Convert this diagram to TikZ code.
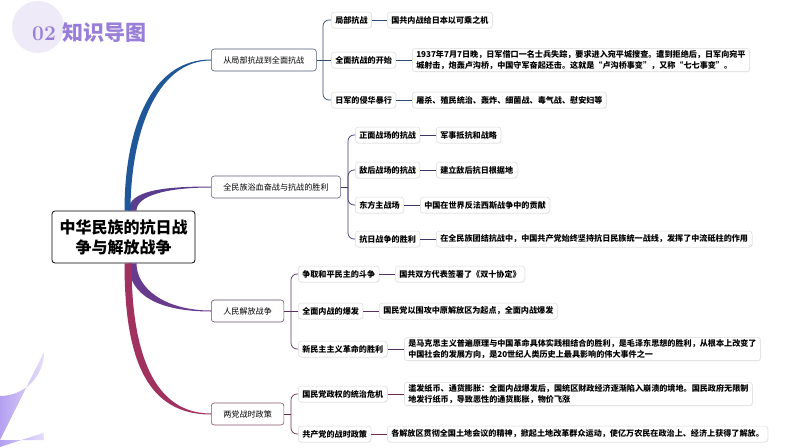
\documentclass[tikz,border=0pt]{standalone}
\usepackage{fontspec}
\newfontfamily\cjk{Noto Sans CJK SC}
\usetikzlibrary{calc,shadows}
\definecolor{titlepurple}{HTML}{9A7FD8}
\definecolor{lavender}{HTML}{EEEAF8}
\definecolor{blobDark}{HTML}{B4A0F0}
\definecolor{blobLight}{HTML}{E6DEFB}
\definecolor{blueBr}{HTML}{1F5799}
\definecolor{purpleBr}{HTML}{5A3D8E}
\definecolor{violetBr}{HTML}{683B8E}
\definecolor{crimsonBr}{HTML}{A1325F}
\definecolor{lineA}{HTML}{2D4A70}
\definecolor{lineB}{HTML}{3C3768}
\definecolor{lineC}{HTML}{5A3164}
\definecolor{lineD}{HTML}{6F2B4F}
\definecolor{edgeA}{HTML}{4A5874}
\definecolor{edgeB}{HTML}{66617F}
\definecolor{edgeC}{HTML}{5E4F70}
\definecolor{edgeD}{HTML}{84546B}

\begin{document}
\begin{tikzpicture}[x=1pt, y=-1pt,
  root/.style={draw=black, line width=0.8pt, rounded corners=3pt, fill=white,
    minimum width=143pt, minimum height=52pt, align=center,
    font=\cjk\bfseries\fontsize{16}{20}\selectfont},
  topic/.style={draw=#1, line width=0.6pt, rounded corners=3pt, fill=white,
    minimum height=22pt, inner xsep=12pt, anchor=west,
    font=\cjk\fontsize{8.1}{10}\selectfont},
  sub/.style={draw=black!14, line width=0.5pt, rounded corners=3pt, fill=white,
    minimum height=16pt, inner xsep=4pt, inner ysep=2pt, anchor=west,
    font=\cjk\bfseries\fontsize{8.1}{11}\selectfont,
    drop shadow={shadow xshift=0.5pt, shadow yshift=-0.7pt, opacity=0.12}},
  leaf/.style={sub, align=left},
  link/.style={draw=#1, line width=0.7pt}]
  \useasboundingbox (0,0) rectangle (794,447);
  \fill[lavender] (38,27) circle (26);
  \path[left color=blobDark, right color=blobLight]
    (0,396) arc[start angle=90, end angle=0, radius=44] -- (0,440) -- cycle;
  \path[left color=blobDark, right color=blobLight]
    (0,440) -- (44,440) arc[start angle=0, end angle=-9.4, radius=44] -- (0,447) -- cycle;
  \node[anchor=west, text=titlepurple, inner sep=0pt] (title) at (32,33)
    {\fontsize{21}{24}\selectfont\textbf{02} {\cjk\bfseries 知识导图}};

  \node[root] (root) at (123.5,237) {中华民族的抗日战\\争与解放战争};

  \node[topic=edgeA] (b1) at (211,60) {从局部抗战到全面抗战};
  \node[topic=edgeB] (b2) at (211,187) {全民族浴血奋战与抗战的胜利};
  \node[topic=edgeC] (b3) at (211,311) {人民解放战争};
  \node[topic=edgeD] (b4) at (211,414) {两党战时政策};

  \fill[purpleBr] ($(root.north)+(5,0)$) .. controls +(0,-20) and +(-48,0) .. ($(b2.west)+(0,-0.5)$)
    -- ($(b2.west)+(0,0.5)$) .. controls +(-44,0) and +(0,-15) .. ($(root.north)+(13,0)$) -- cycle;
  \fill[blueBr] ($(root.north)+(1,0)$) .. controls +(0,-78) and +(-62,0) .. ($(b1.west)+(0,-0.5)$)
    -- ($(b1.west)+(0,0.5)$) .. controls +(-57,0) and +(0,-72) .. ($(root.north)+(7,0)$) -- cycle;
  \fill[violetBr] ($(root.south)+(5,0)$) .. controls +(0,32) and +(-52,0) .. ($(b3.west)+(0,0.5)$)
    -- ($(b3.west)+(0,-0.5)$) .. controls +(-46,0) and +(0,25) .. ($(root.south)+(13,0)$) -- cycle;
  \fill[crimsonBr] ($(root.south)+(1,0)$) .. controls +(0,100) and +(-62,0) .. ($(b4.west)+(0,0.5)$)
    -- ($(b4.west)+(0,-0.5)$) .. controls +(-56,0) and +(0,92) .. ($(root.south)+(8,0)$) -- cycle;

  \node[sub] (c11) at (331,20) {局部抗战};
  \node[sub] (c12) at (331,60) {全面抗战的开始};
  \node[sub] (c13) at (331,100) {日军的侵华暴行};
  \node[leaf] (l11) at (387,20) {国共内战给日本以可乘之机};
  \node[leaf] (l12) at (412,60) {1937年7月7日晚，日军借口一名士兵失踪，要求进入宛平城搜查。遭到拒绝后，日军向宛平\\城射击，炮轰卢沟桥，中国守军奋起还击。这就是“卢沟桥事变”，又称“七七事变”。};
  \node[leaf] (l13) at (412,100) {屠杀、殖民统治、轰炸、细菌战、毒气战、慰安妇等};

  \node[sub] (c21) at (355,135) {正面战场的抗战};
  \node[sub] (c22) at (355,170) {敌后战场的抗战};
  \node[sub] (c23) at (355,205) {东方主战场};
  \node[sub] (c24) at (355,239) {抗日战争的胜利};
  \node[leaf] (l21) at (436,135) {军事抵抗和战略};
  \node[leaf] (l22) at (436,170) {建立敌后抗日根据地};
  \node[leaf] (l23) at (420,205) {中国在世界反法西斯战争中的贡献};
  \node[leaf] (l24) at (436,239) {在全民族团结抗战中，中国共产党始终坚持抗日民族统一战线，发挥了中流砥柱的作用};

  \node[sub] (c31) at (298,274) {争取和平民主的斗争};
  \node[sub] (c32) at (298,311) {全面内战的爆发};
  \node[sub] (c33) at (298,349) {新民主主义革命的胜利};
  \node[leaf] (l31) at (395,274) {国共双方代表签署了《双十协定》};
  \node[leaf] (l32) at (379,311) {国民党以围攻中原解放区为起点，全面内战爆发};
  \node[leaf] (l33) at (404,349) {是马克思主义普遍原理与中国革命具体实践相结合的胜利，是毛泽东思想的胜利，从根本上改变了\\中国社会的发展方向，是20世纪人类历史上最具影响的伟大事件之一};

  \node[sub] (c41) at (298,394) {国民党政权的统治危机};
  \node[sub] (c42) at (298,434) {共产党的战时政策};
  \node[leaf] (l41) at (404,394) {滥发纸币、通货膨胀：全面内战爆发后，国统区财政经济逐渐陷入崩溃的境地。国民政府无限制\\地发行纸币，导致恶性的通货膨胀，物价飞涨};
  \node[leaf] (l42) at (387,434) {各解放区贯彻全国土地会议的精神，掀起土地改革群众运动，使亿万农民在政治上、经济上获得了解放。};

  \coordinate (j1) at (323,60);
  \coordinate (j2) at (348,187);
  \coordinate (j3) at (291,311);
  \coordinate (j4) at (291,414);
  \draw[link=lineA] (b1.east) -- (j1);
  \draw[link=lineA, rounded corners=6pt] (j1) |- (c11.west);
  \draw[link=lineA] (j1) -- (c12.west);
  \draw[link=lineA, rounded corners=6pt] (j1) |- (c13.west);
  \draw[link=lineA] (c11.east) -- (l11.west);
  \draw[link=lineA] (c12.east) -- (l12.west);
  \draw[link=lineA] (c13.east) -- (l13.west);

  \draw[link=lineB] (b2.east) -- (j2);
  \draw[link=lineB, rounded corners=6pt] (j2) |- (c21.west);
  \draw[link=lineB, rounded corners=6pt] (j2) |- (c22.west);
  \draw[link=lineB, rounded corners=6pt] (j2) |- (c23.west);
  \draw[link=lineB, rounded corners=6pt] (j2) |- (c24.west);
  \draw[link=lineB] (c21.east) -- (l21.west);
  \draw[link=lineB] (c22.east) -- (l22.west);
  \draw[link=lineB] (c23.east) -- (l23.west);
  \draw[link=lineB] (c24.east) -- (l24.west);

  \draw[link=lineC] (b3.east) -- (j3);
  \draw[link=lineC, rounded corners=6pt] (j3) |- (c31.west);
  \draw[link=lineC] (j3) -- (c32.west);
  \draw[link=lineC, rounded corners=6pt] (j3) |- (c33.west);
  \draw[link=lineC] (c31.east) -- (l31.west);
  \draw[link=lineC] (c32.east) -- (l32.west);
  \draw[link=lineC] (c33.east) -- (l33.west);

  \draw[link=lineD] (b4.east) -- (j4);
  \draw[link=lineD, rounded corners=6pt] (j4) |- (c41.west);
  \draw[link=lineD, rounded corners=6pt] (j4) |- (c42.west);
  \draw[link=lineD] (c41.east) -- (l41.west);
  \draw[link=lineD] (c42.east) -- (l42.west);
\end{tikzpicture}
\end{document}
